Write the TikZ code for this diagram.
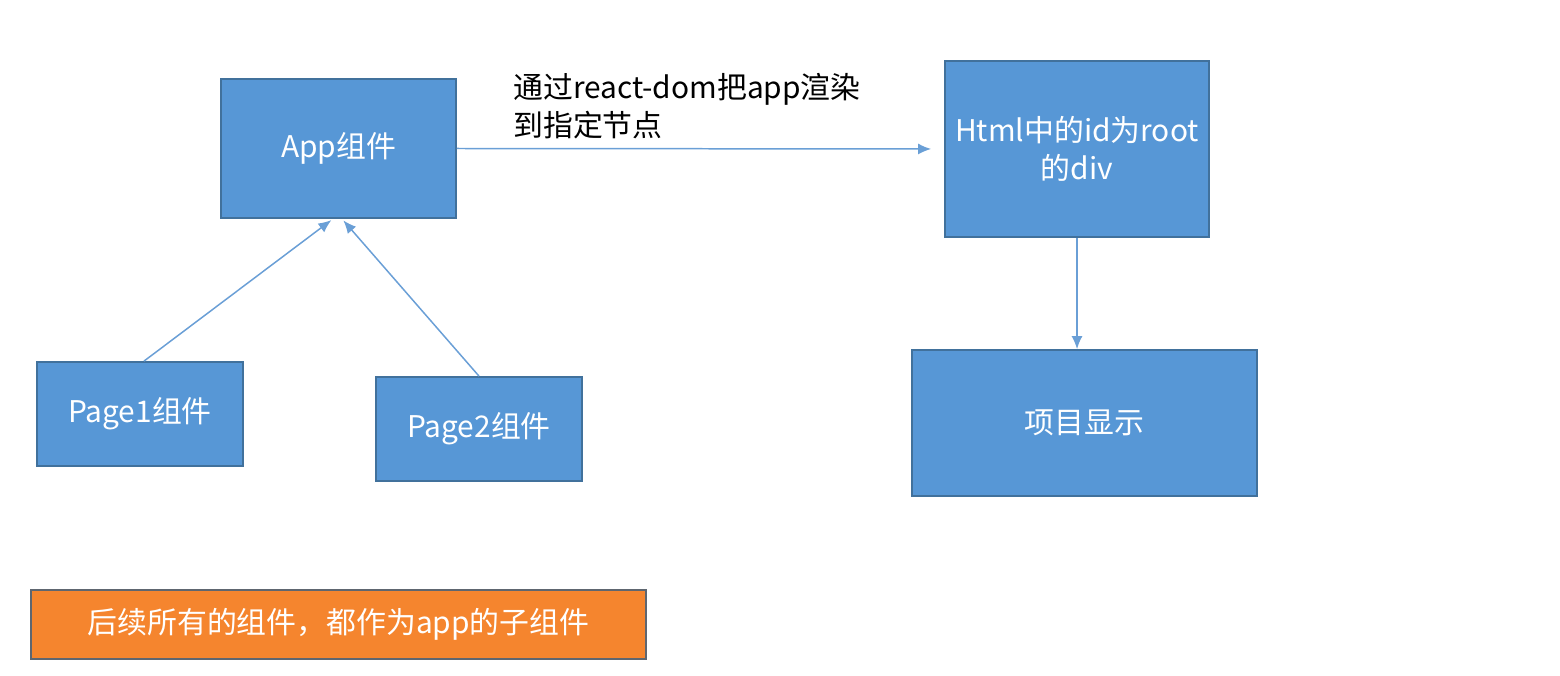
\documentclass[tikz,border=0pt]{standalone}
\usepackage{fontspec}
\setmainfont{Noto Sans CJK SC}
\usetikzlibrary{arrows.meta,positioning}
\definecolor{boxblue}{HTML}{5797D6}
\definecolor{boxline}{HTML}{41719C}
\definecolor{linkblue}{HTML}{6A9FD6}
\definecolor{notefill}{HTML}{F5852E}
\definecolor{noteline}{HTML}{5E6670}
\tikzset{>={Latex[length=2.6mm,width=2.2mm]}}
\tikzstyle{comp}=[rectangle,draw=boxline,fill=boxblue,line width=1pt,text=white,align=center,font=\fontsize{17}{22}\selectfont]
\tikzstyle{note}=[rectangle,draw=noteline,fill=notefill,line width=1.2pt,text=white,font=\fontsize{17}{22}\selectfont]
\tikzstyle{link}=[->,draw=linkblue,line width=0.85pt]

\begin{document}
\begin{tikzpicture}[inner sep=1mm]
\useasboundingbox (0,0) rectangle (31.2,-13.52);

\node[comp,minimum width=4.70cm,minimum height=2.78cm] (app) at (6.77,-2.97) {App组件};
\node[comp,minimum width=4.12cm,minimum height=2.08cm] (page1) at (2.80,-8.28) {Page1组件};
\node[comp,minimum width=4.12cm,minimum height=2.08cm] (page2) at (9.58,-8.58) {Page2组件};
\node[comp,minimum width=5.28cm,minimum height=3.52cm] (root) at (21.54,-2.98) {Html中的id为root\\的div};
\node[comp,minimum width=6.90cm,minimum height=2.92cm] (show) at (21.69,-8.46) {项目显示};
\node[note,minimum width=12.30cm,minimum height=1.38cm] (hint) at (6.77,-12.49) {后续所有的组件，都作为app的子组件};

\node[anchor=west,align=left,inner sep=0pt,font=\fontsize{17}{21.5}\selectfont] (render) at (10.26,-2.12) {通过react-dom把app渲染\\到指定节点};

\draw[link,shorten >=0.26cm] (app.east) -- (root.west);
\draw[link] (root.south) -- (root.south |- show.north);
\draw[link,shorten >=0.04cm] ([xshift=0.08cm]page1.north) -- ([xshift=-0.11cm]app.south);
\draw[link,shorten >=0.04cm] (page2.north) -- ([xshift=0.07cm]app.south);

\end{tikzpicture}
\end{document}
